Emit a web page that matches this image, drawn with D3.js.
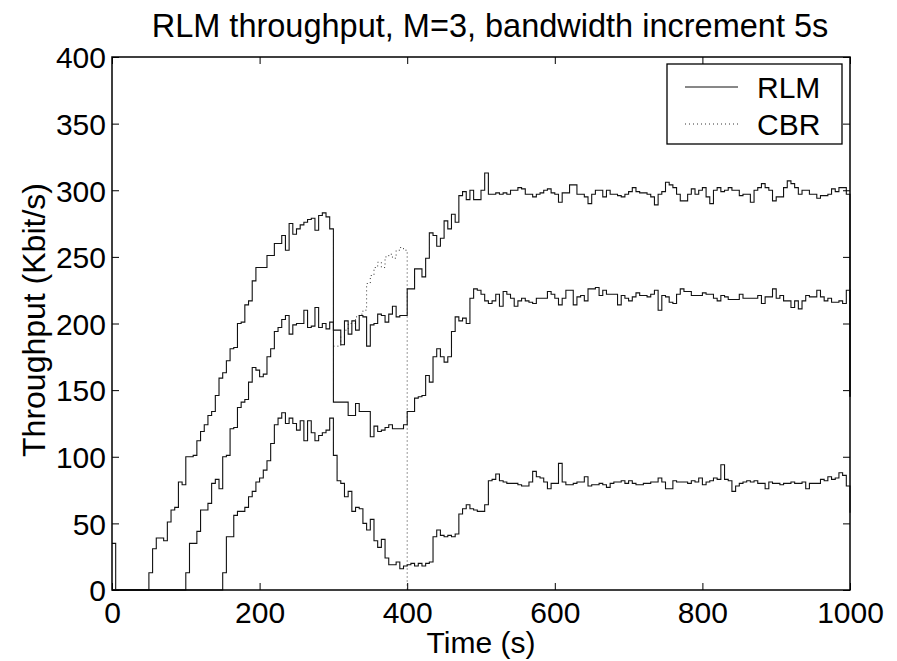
<!DOCTYPE html>
<meta charset="utf-8">
<script src="https://d3js.org/d3.v7.min.js"></script>
<style>
  body { margin: 0; background: #fff; }
  text { font-family: "Liberation Sans", Arial, Helvetica, sans-serif; fill: #000; }
</style>
<div id="chart"></div>
<script>
// Sample step of the traces (s) and the time of each sample, 0..1000
var stepSec = 5;
var times = d3.range(0, 1001, stepSec);

// RLM throughput, cumulative layers (Kbit/s), one value per 5 s sample
var rlmTop = [
  35,0,0,0,0,0,0,0,0,0,
  13,31,39,39,37,51,60,62,81,79,
  100,100,101,112,119,124,131,134,146,159,
  163,172,181,182,200,201,214,217,232,242,
  242,242,251,251,260,260,266,255,275,267,
  271,274,276,278,279,270,281,283,280,271,
  195,195,184,202,192,202,195,206,205,183,
  199,200,207,206,201,207,213,205,206,206,
  226,226,241,241,235,249,268,266,258,264,
  277,271,282,276,296,299,293,300,293,293,
  300,313,297,297,298,297,298,297,300,300,
  302,301,297,297,295,297,298,300,301,298,
  297,291,298,298,304,304,297,297,295,290,
  297,300,300,295,300,297,297,296,295,297,
  299,302,299,298,298,297,295,289,297,299,
  306,304,302,297,292,292,297,301,297,300,
  302,295,290,300,302,299,300,302,300,300,
  296,297,297,291,300,302,305,302,300,292,
  295,295,302,307,305,302,297,300,300,297,
  297,294,296,296,297,301,299,302,302,297,
  145
];
var rlmMiddle = [
  0,0,0,0,0,0,0,0,0,0,
  0,0,0,0,0,0,0,0,0,0,
  13,35,35,44,60,60,65,80,83,76,
  100,101,121,122,137,141,143,156,167,165,
  160,162,175,181,194,197,203,206,192,199,
  200,200,210,197,198,212,197,200,196,201,
  141,141,141,141,131,131,140,134,134,134,
  115,123,119,120,122,124,121,121,121,124,
  134,134,144,145,146,161,156,175,181,175,
  171,175,194,205,202,204,200,219,226,225,
  222,217,215,217,222,213,224,222,219,213,
  217,219,217,216,215,219,219,219,224,222,
  219,214,219,225,225,214,220,221,217,226,
  226,227,221,225,222,222,222,214,221,219,
  217,220,223,221,221,220,222,225,210,221,
  220,216,215,222,226,224,224,221,221,221,
  223,222,222,219,217,221,220,218,218,218,
  222,219,219,219,219,221,215,220,220,226,
  219,221,217,217,212,217,211,217,221,220,
  220,225,220,217,219,216,216,217,215,225,
  145
];
var rlmBottom = [
  0,0,0,0,0,0,0,0,0,0,
  0,0,0,0,0,0,0,0,0,0,
  0,0,0,0,0,0,0,0,0,0,
  13,40,40,56,59,59,62,70,74,81,
  84,90,97,110,124,129,133,125,129,125,
  120,127,112,127,118,112,116,118,120,129,
  101,82,80,70,74,59,62,61,50,45,
  53,37,32,38,24,19,19,21,16,18,
  19,20,18,20,18,20,21,40,45,41,
  40,41,40,42,57,61,64,61,60,59,
  59,64,82,83,87,82,81,80,80,80,
  79,78,78,81,89,85,84,81,76,80,
  80,95,81,79,79,80,81,81,85,78,
  79,79,80,79,77,80,81,81,82,80,
  82,80,79,79,80,80,81,81,84,81,
  76,76,82,81,81,81,80,82,81,84,
  79,81,82,84,83,94,83,82,74,78,
  80,81,82,81,82,80,80,76,81,80,
  80,79,80,80,81,80,80,81,76,80,
  80,80,83,82,85,83,84,88,86,78,
  58
];

// CBR source, active from 300 s to 400 s
var cbrTimes = d3.range(300, 401, stepSec);
var cbrValues = [
  183,183,190,195,200,200,205,207,210,230,
  236,242,246,242,250,252,249,255,257,255,
  0
];

var xTicks = [0, 200, 400, 600, 800, 1000];
var yTicks = [0, 50, 100, 150, 200, 250, 300, 350, 400];
var legendItems = ["RLM", "CBR"];

var W = 897, H = 661;
var plotL = 112, plotR = 850, plotT = 57, plotB = 590;

var svg = d3.select("#chart").append("svg")
  .attr("width", W).attr("height", H);

svg.append("rect").attr("width", W).attr("height", H).attr("fill", "#fff");

var x = d3.scaleLinear().domain([0, 1000]).range([plotL, plotR]);
var y = d3.scaleLinear().domain([0, 400]).range([plotB, plotT]);

// traces
var line = d3.line()
  .x(function(d) { return x(d.t); })
  .y(function(d) { return y(d.v); })
  .curve(d3.curveStepAfter);

function pairs(ts, vs) {
  return vs.map(function(v, i) { return {t: ts[i], v: v}; });
}

svg.append("path")
  .datum(pairs(cbrTimes, cbrValues))
  .attr("fill", "none")
  .attr("stroke", "#333")
  .attr("stroke-width", 1)
  .attr("stroke-dasharray", "1,3")
  .attr("d", line);

[rlmTop, rlmMiddle, rlmBottom].forEach(function(vals) {
  svg.append("path")
    .datum(pairs(times, vals))
    .attr("fill", "none")
    .attr("stroke", "#111")
    .attr("stroke-width", 1.1)
    .attr("d", line);
});

// axes: ticks inside on all four sides
var tickLen = 7;
var fs = 30;

svg.append("g").attr("transform", "translate(0," + plotB + ")")
  .call(d3.axisBottom(x).tickValues(xTicks).tickSize(-tickLen).tickPadding(12)
    .tickFormat(d3.format("d")))
  .call(function(g) {
    g.select(".domain").remove();
    g.selectAll("text").attr("font-size", fs).attr("dy", "0.71em");
  });

svg.append("g").attr("transform", "translate(0," + plotT + ")")
  .call(d3.axisTop(x).tickValues(xTicks).tickSize(-tickLen).tickFormat(""))
  .call(function(g) { g.select(".domain").remove(); });

svg.append("g").attr("transform", "translate(" + plotL + ",0)")
  .call(d3.axisLeft(y).tickValues(yTicks).tickSize(-tickLen).tickPadding(6)
    .tickFormat(d3.format("d")))
  .call(function(g) {
    g.select(".domain").remove();
    g.selectAll("text").attr("font-size", fs).attr("dy", "0.36em");
  });

svg.append("g").attr("transform", "translate(" + plotR + ",0)")
  .call(d3.axisRight(y).tickValues(yTicks).tickSize(-tickLen).tickFormat(""))
  .call(function(g) { g.select(".domain").remove(); });

svg.selectAll(".tick line").attr("stroke", "#000").attr("stroke-width", 1);

svg.append("rect")
  .attr("x", plotL).attr("y", plotT)
  .attr("width", plotR - plotL).attr("height", plotB - plotT)
  .attr("fill", "none").attr("stroke", "#000").attr("stroke-width", 1.5);

// title and labels
svg.append("text")
  .attr("x", 490).attr("y", 37)
  .attr("text-anchor", "middle").attr("font-size", 32.5)
  .text("RLM throughput, M=3, bandwidth increment 5s");

svg.append("text")
  .attr("x", (plotL + plotR) / 2).attr("y", 653)
  .attr("text-anchor", "middle").attr("font-size", fs)
  .text("Time (s)");

svg.append("text")
  .attr("transform", "translate(45,320) rotate(-90)")
  .attr("text-anchor", "middle").attr("font-size", 32)
  .text("Throughput (Kbit/s)");

// legend
var lg = svg.append("g");
lg.append("rect")
  .attr("x", 667).attr("y", 64).attr("width", 175).attr("height", 80)
  .attr("fill", "#fff").attr("stroke", "#000").attr("stroke-width", 1.3);

legendItems.forEach(function(name, i) {
  var ly = 87 + i * 37;
  lg.append("line")
    .attr("x1", 685).attr("x2", 738).attr("y1", ly).attr("y2", ly)
    .attr("stroke", i === 0 ? "#111" : "#333")
    .attr("stroke-width", 1)
    .attr("stroke-dasharray", i === 0 ? null : "1,3");
  lg.append("text")
    .attr("x", 757).attr("y", ly + 10.5)
    .attr("font-size", fs)
    .text(name);
});
</script>
